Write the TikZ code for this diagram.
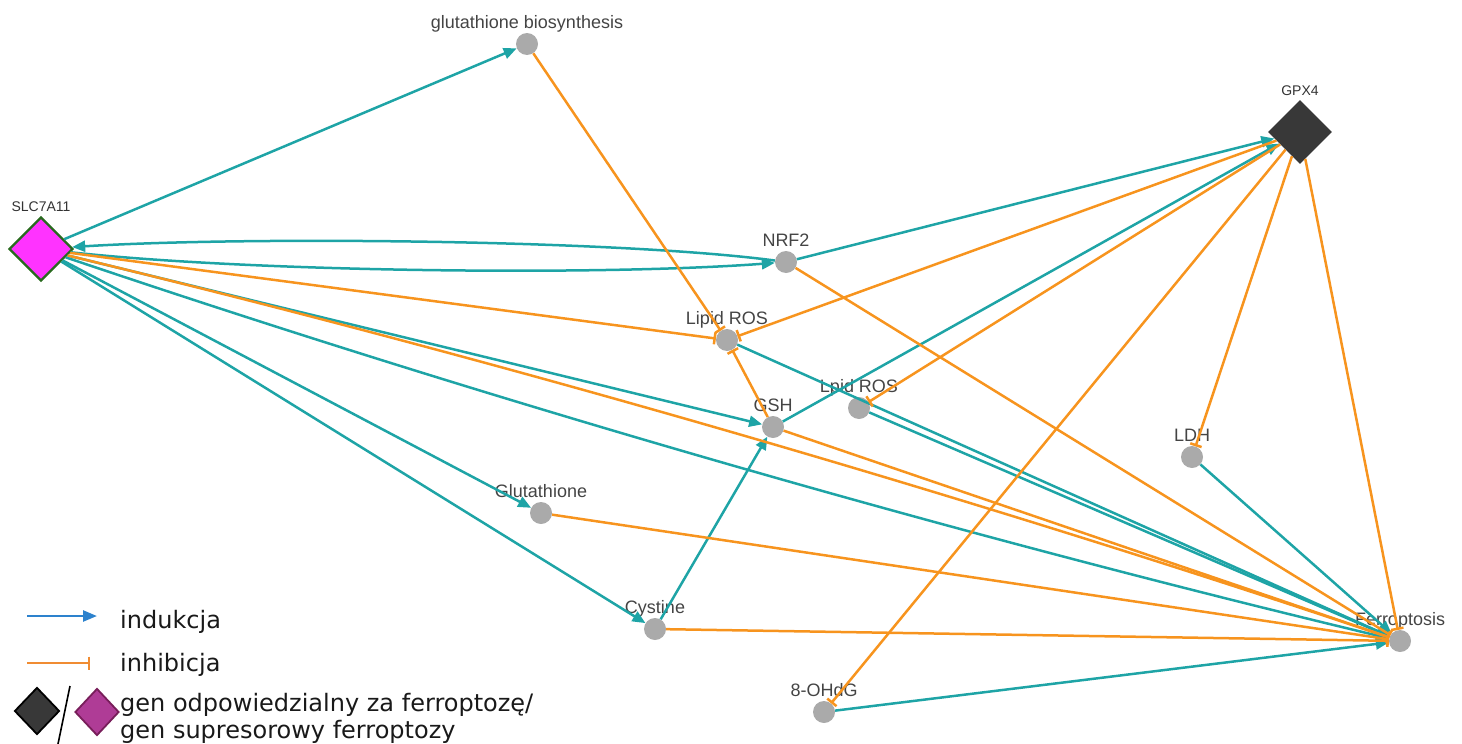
\documentclass[tikz,border=0pt]{standalone}
\usepackage{fontspec}
\setmainfont{Liberation Sans}
\newfontfamily\legendfont{DejaVu Sans}
\usetikzlibrary{arrows.meta,shapes.geometric}
\definecolor{induct}{RGB}{30,164,166}
\definecolor{inhib}{RGB}{247,148,30}
\definecolor{nodegray}{RGB}{170,170,170}
\definecolor{labelgray}{RGB}{68,68,68}
\definecolor{genedark}{RGB}{56,56,56}
\definecolor{suppmagenta}{RGB}{255,51,255}
\definecolor{suppborder}{RGB}{40,105,30}
\definecolor{legendblue}{RGB}{45,130,205}
\definecolor{legendorange}{RGB}{240,140,50}
\definecolor{legendpurple}{RGB}{175,60,150}
\definecolor{legendpurpleborder}{RGB}{120,30,90}

\begin{document}
\begin{tikzpicture}[x=1pt, y=-1pt,
    metab/.style={circle, fill=nodegray, minimum size=22pt, inner sep=0pt},
    gene/.style={diamond, minimum width=64pt, minimum height=64pt, inner sep=0pt},
    lbl/.style={font=\fontsize{18}{20}\selectfont, text=labelgray, inner sep=0pt, anchor=base},
    genelbl/.style={lbl, font=\fontsize{14}{16}\selectfont, text=black!80},
    label distance=4pt,
    induces/.style={induct, line width=2.5pt, -{Triangle[length=13pt,width=11pt]}},
    inhibits/.style={inhib, line width=2.5pt, -{Bar[width=12pt]}},
    keytext/.style={font=\legendfont\fontsize{24}{27}\selectfont, text=black!90, inner sep=0pt, anchor=base west}]
    \useasboundingbox (0,0) rectangle (1462,744);

    % genes
    \node[gene, fill=suppmagenta, draw=suppborder, line width=2.2pt,
          label={[genelbl]above:SLC7A11}] (slc) at (41,249) {};
    \node[gene, fill=genedark, label={[genelbl]above:GPX4}] (gpx) at (1300,132) {};

    % metabolites and processes
    \node[metab, label={[lbl]above:glutathione biosynthesis}] (gbio) at (527,44) {};
    \node[metab, label={[lbl]above:NRF2}] (nrf) at (786,262) {};
    \node[metab, label={[lbl]above:Lipid ROS}] (lros) at (727,340) {};
    \node[metab, label={[lbl]above:Lpid ROS}] (lpros) at (859,408) {};
    \node[metab, label={[lbl]above:GSH}] (gsh) at (773,427) {};
    \node[metab, label={[lbl]above:LDH}] (ldh) at (1192,457) {};
    \node[metab, label={[lbl]above:Glutathione}] (glut) at (541,513) {};
    \node[metab, label={[lbl]above:Cystine}] (cys) at (655,629) {};
    \node[metab, label={[lbl]above:Ferroptosis}] (ferro) at (1400,641) {};
    \node[metab, label={[lbl]above:8-OHdG}] (ohdg) at (824,712) {};

    % induction
    \draw[induces] (slc) -- (gbio);
    \draw[induces] (nrf) .. controls (620,240) and (250,236) .. (slc);
    \draw[induces] (slc) .. controls (250,272) and (600,276) .. (nrf);
    \draw[induces] (nrf) -- (gpx);
    \draw[induces] (gsh) -- (gpx);
    \foreach \dst in {gsh,glut,cys}
        \draw[induces] (slc) -- (\dst);
    \draw[induces] (cys) -- (gsh);
    \draw[induces] (slc) .. controls (488,400) and (941,531) .. (ferro);
    \foreach \src in {lros,lpros,ldh,ohdg}
        \draw[induces] (\src) -- (ferro);

    % inhibition
    \foreach \src in {gbio,slc,gsh,gpx}
        \draw[inhibits] (\src) -- (lros);
    \foreach \dst in {lpros,ldh,ohdg,ferro}
        \draw[inhibits] (gpx) -- (\dst);
    \foreach \src in {nrf,gsh,glut,cys}
        \draw[inhibits] (\src) -- (ferro);
    \draw[inhibits] (slc) .. controls (500,360) and (953,491) .. (ferro);

    % key
    \coordinate (indA) at (27,616);
    \coordinate (indB) at (97,616);
    \coordinate (inhA) at (27,663);
    \coordinate (inhB) at (90,663);
    \draw[legendblue, line width=2.5pt, -{Triangle[length=14pt,width=11pt]}] (indA) -- (indB);
    \draw[legendorange, line width=2.5pt, -{Bar[width=13pt]}] (inhA) -- (inhB);
    \node[keytext] (indtext) at (120,628) {indukcja};
    \node[keytext] (inhtext) at (120,671) {inhibicja};
    \node[diamond, fill=genedark, draw=black, line width=1.8pt, minimum width=45pt,
          minimum height=47pt, inner sep=0pt] (keydark) at (37,711) {};
    \node[diamond, fill=legendpurple, draw=legendpurpleborder, line width=1.8pt, minimum width=44pt,
          minimum height=47pt, inner sep=0pt] (keysupp) at (97,712) {};
    \coordinate (slashtop) at (70,686);
    \coordinate (slashbot) at (58,744);
    \draw[black, line width=1.6pt] (slashtop) -- (slashbot);
    \node[keytext] (gentext) at (120,711) {gen odpowiedzialny za ferroptozę/};
    \node[keytext] (supptext) at (120,738) {gen supresorowy ferroptozy};
\end{tikzpicture}
\end{document}
